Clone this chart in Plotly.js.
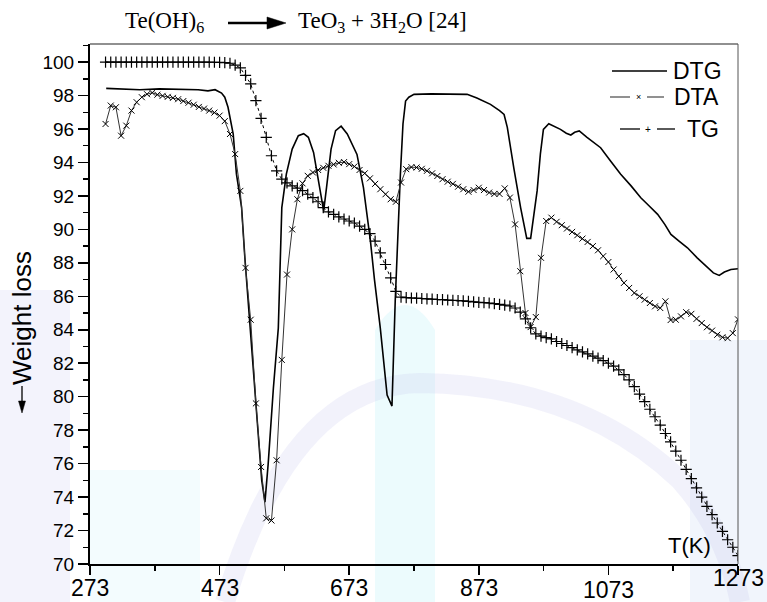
<!DOCTYPE html>
<html>
<head>
<meta charset="utf-8">
<script src="https://cdn.plot.ly/plotly-3.0.1.min.js"></script>
<style>html,body{margin:0;padding:0;background:#fff;}#chart{width:767px;height:602px;}</style>
</head>
<body>
<div id="chart"></div>
<script>
// Temperature grid (K) shared by TG and DTA
const T = [
297,305,313,321,329,337,345,353,361,369,
377,385,393,401,409,417,425,433,441,449,
457,465,473,481,489,497,505,513,521,529,
537,545,553,561,569,577,585,593,601,609,
617,625,633,641,649,657,665,673,681,689,
697,705,713,721,729,737,745,753,761,769,
777,785,793,801,809,817,825,833,841,849,
857,865,873,881,889,897,905,913,921,929,
937,945,953,961,969,977,985,993,1001,1009,
1017,1025,1033,1041,1049,1057,1065,1073,1081,1089,
1097,1105,1113,1121,1129,1137,1145,1153,1161,1169,
1177,1185,1193,1201,1209,1217,1225,1233,1241,1249,
1257,1265,1273];

const tgY = [
100,100,100,100,100,100,100,100,100,100,
100,100,100,100,100,100,100,100,100,100,
100,99.99,99.98,99.97,99.93,99.82,99.65,99.2,98.7,97.7,
96.64,95.5,94.4,93.5,93.0,92.78,92.6,92.47,92.32,92.1,
91.9,91.65,91.3,91.05,90.9,90.75,90.62,90.5,90.38,90.2,
90.0,89.75,89.3,88.6,87.9,87.1,86.3,85.95,85.92,85.9,
85.89,85.87,85.85,85.83,85.81,85.8,85.78,85.76,85.75,85.73,
85.7,85.67,85.64,85.62,85.6,85.56,85.52,85.47,85.42,85.3,
85.05,84.65,84.12,83.75,83.62,83.53,83.45,83.3,83.18,83.06,
82.93,82.8,82.68,82.56,82.43,82.3,82.15,82.0,81.83,81.6,
81.32,81.0,80.6,80.15,79.7,79.25,78.8,78.3,77.8,77.3,
76.75,76.2,75.65,75.1,74.55,74.0,73.45,72.95,72.45,71.95,
71.45,71.0,70.5];

const dtaY = [
96.3,97.4,97.3,95.6,96.2,97.1,97.6,97.9,98.08,98.17,
98.05,97.98,97.92,97.86,97.78,97.67,97.57,97.45,97.32,97.22,
97.1,96.98,96.8,96.47,95.7,94.5,92.3,87.7,84.6,79.6,
75.8,72.73,72.6,76.2,82.2,87.3,90.0,91.8,92.75,93.2,
93.4,93.55,93.68,93.8,93.88,93.98,94.02,93.9,93.76,93.55,
93.35,93.05,92.72,92.4,92.1,91.8,91.65,92.8,93.6,93.72,
93.7,93.62,93.5,93.35,93.19,93.0,92.85,92.72,92.55,92.4,
92.25,92.35,92.49,92.35,92.2,92.12,92.12,92.45,91.9,90.3,
87.5,85.0,84.16,84.76,88.3,90.5,90.7,90.45,90.25,90.05,
89.85,89.65,89.45,89.25,89.0,88.75,88.4,88.05,87.6,87.2,
86.8,86.5,86.2,86.0,85.8,85.6,85.4,85.3,85.7,84.58,
84.6,84.8,85.05,84.95,84.65,84.4,84.15,83.95,83.7,83.55,
83.5,83.8,84.62];

const dtgT = [298,320,350,380,410,440,455,466,476,481,486,490,494,499,507,512,520,531,538,543,
548,556,563.6,569,576,585,594.5,602.7,610,618,624,630,633.6,638,645,652,660.5,670,678,685,
695,705.8,712,721,731.5,739,744,748,752,756,760,765,773,800,840,855,870,891,905,912,
917,922,927,937.6,947,953,958,963,968,972.7,981,990,999,1008,1015,1021,1028,1040,1061,1076,
1092,1108,1123,1136,1149,1160,1169.5,1182,1195,1210,1226,1235,1244,1252,1262,1273];
const dtgY = [98.43,98.38,98.35,98.4,98.38,98.35,98.28,98.35,98.15,97.9,97.3,96.6,95.7,93.3,91.3,88.3,84.1,78.5,75.0,73.7,
76.0,80.5,84.1,91.3,93.3,94.8,95.6,95.72,95.5,94.6,93.3,91.8,91.1,92.5,94.8,95.9,96.17,95.7,95.1,94.48,
92.5,89.3,87.0,84.1,80.1,79.44,85.7,90.0,93.3,96.3,97.67,97.9,98.07,98.1,98.1,98.07,97.85,97.47,97.1,96.87,
96.1,95.0,93.68,91.29,89.46,89.46,90.9,92.3,94.5,95.98,96.31,96.15,95.98,95.75,95.64,95.8,95.88,95.5,94.88,94.1,
93.29,92.6,91.89,91.4,90.9,90.3,89.7,89.3,88.9,88.3,87.7,87.4,87.25,87.45,87.6,87.65];

const xTickVals = [273,473,673,873,1073,1273];
const xTickText = ['273','473','673','873','1073','1273'];
const yTickVals = [70,72,74,76,78,80,82,84,86,88,90,92,94,96,98,100];
const seriesNames = ['DTG','DTA','TG'];

// style / placement (pixel rows of the x tick labels)
const xLabelRow = [588,588,588,588,590,578];

const traces = [
  {x: dtgT, y: dtgY, mode: 'lines', name: seriesNames[0], line: {color: '#000', width: 1.6}, hoverinfo: 'skip'},
  {x: T, y: dtaY, mode: 'lines+markers', name: seriesNames[1], line: {color: '#333', width: 1},
   marker: {symbol: 'x-thin-open', size: 6, color: '#000', line: {width: 1, color: '#000'}}, hoverinfo: 'skip'},
  {x: T, y: tgY, mode: 'lines+markers', name: seriesNames[2], line: {color: '#000', width: 1, dash: 'dot'},
   marker: {symbol: 'cross-thin-open', size: 8, color: '#000', line: {width: 1.2, color: '#000'}}, hoverinfo: 'skip'}
];

// pixel helpers for layout positioning (plot area 90..738 x 44..564)
const L = 90, R = 29, TOP = 44, B = 38, W = 767 - L - R, H = 602 - TOP - B;
const px = p => (p - L) / W;
const py = p => (602 - B - p) / H;
const P = pts => pts.map((q, i) => (i === 0 ? 'M ' : 'L ') + px(q[0]) + ',' + py(q[1])).join(' ') + ' Z';
const pt = (x, y) => px(x) + ',' + py(y);

const sans = 'Liberation Sans, Arial, sans-serif';
const serif = 'Liberation Serif, Times New Roman, serif';

const pl = (x0, y0, x1, y1, color, width) => ({type: 'line', xref: 'paper', yref: 'paper', x0: px(x0), x1: px(x1), y0: py(y0), y1: py(y1), line: {color: color, width: width}});

const shapes = [
  // faint watermark tints in the background
  {type: 'rect', xref: 'paper', yref: 'paper', layer: 'below', x0: px(0), x1: px(70), y0: py(602), y1: py(290), fillcolor: 'rgba(200,200,240,0.22)', line: {width: 0}},
  {type: 'rect', xref: 'paper', yref: 'paper', layer: 'below', x0: px(690), x1: px(767), y0: py(602), y1: py(340), fillcolor: 'rgba(175,200,240,0.18)', line: {width: 0}},
  {type: 'path', xref: 'paper', yref: 'paper', layer: 'below', path: 'M ' + pt(375, 602) + ' L ' + pt(375, 330) + ' Q ' + pt(405, 280) + ' ' + pt(435, 330) + ' L ' + pt(435, 602) + ' Z', fillcolor: 'rgba(170,235,245,0.22)', line: {width: 0}},
  {type: 'path', xref: 'paper', yref: 'paper', layer: 'below', path: 'M ' + pt(225, 602) + ' Q ' + pt(290, 385) + ' ' + pt(420, 383) + ' Q ' + pt(580, 385) + ' ' + pt(680, 480) + ' Q ' + pt(725, 530) + ' ' + pt(740, 602), line: {color: 'rgba(195,195,235,0.22)', width: 20}},
  {type: 'rect', xref: 'paper', yref: 'paper', layer: 'below', x0: px(90), x1: px(200), y0: py(602), y1: py(470), fillcolor: 'rgba(190,240,250,0.18)', line: {width: 0}},
  // top and right frame
  {type: 'line', xref: 'paper', yref: 'paper', x0: 0, x1: 1, y0: 1, y1: 1, line: {color: '#222', width: 1.2}},
  {type: 'line', xref: 'paper', yref: 'paper', x0: 1, x1: 1, y0: 0, y1: 1, line: {color: '#555', width: 1}},
  // legend lines
  pl(612, 71, 667, 71, '#000', 1.5),
  pl(610, 97, 630, 97, '#555', 1.3),
  pl(647, 97, 664, 97, '#555', 1.3),
  pl(620, 129, 640, 129, '#000', 1.3),
  pl(657, 129, 675, 129, '#000', 1.3),
  // reaction arrow
  pl(228, 23, 269, 23, '#000', 2.5),
  {type: 'path', xref: 'paper', yref: 'paper', path: P([[267, 17], [286, 23], [267, 29]]), fillcolor: '#000', line: {color: '#000', width: 0.5}},
  // y title arrow
  pl(22, 386, 22, 404, '#000', 1.3),
  {type: 'path', xref: 'paper', yref: 'paper', path: P([[18.5, 401], [25.5, 401], [22, 413]]), fillcolor: '#000', line: {color: '#000', width: 0.5}}
];

const ann = (x, y, text, size, extra) => Object.assign({xref: 'paper', yref: 'paper', x: px(x), y: py(y), xanchor: 'center', yanchor: 'middle', text: text, showarrow: false, font: {family: sans, size: size, color: '#000'}}, extra || {});

const annotations = [
  // legend labels
  ann(724, 71, seriesNames[0], 23, {xanchor: 'right'}),
  ann(721, 97, seriesNames[1], 23, {xanchor: 'right'}),
  ann(721, 129, seriesNames[2], 23, {xanchor: 'right'}),
  ann(638.5, 97, '×', 9),
  ann(648, 129, '+', 10),
  // reaction title
  ann(123, 22, 'Te(OH)<sub>6</sub>', 23, {xanchor: 'left', font: {family: serif, size: 23, color: '#000'}}),
  ann(296, 22, 'TeO<sub>3</sub> + 3H<sub>2</sub>O [24]', 23, {xanchor: 'left', font: {family: serif, size: 23, color: '#000'}}),
  // y axis title
  ann(22, 318, 'Weight loss', 26, {textangle: -90}),
  // x axis title
  ann(689, 545, 'T(K)', 22)
];
// x tick labels
xTickVals.forEach((v, i) => {
  annotations.push({xref: 'x', yref: 'paper', x: v, y: py(xLabelRow[i]), xanchor: 'center', yanchor: 'middle',
    text: xTickText[i], showarrow: false, font: {family: sans, size: 23, color: '#000'}});
});

const layout = {
  width: 767, height: 602,
  margin: {l: L, r: R, t: TOP, b: B},
  paper_bgcolor: '#fff', plot_bgcolor: 'rgba(0,0,0,0)',
  showlegend: false,
  xaxis: {
    range: [273, 1273], showgrid: false, zeroline: false,
    showline: true, linecolor: '#000', linewidth: 2,
    ticks: 'outside', ticklen: 9, tickwidth: 1.5, tickcolor: '#000',
    tickvals: xTickVals, showticklabels: false,
    minor: {tick0: 273, dtick: 100, ticks: 'outside', ticklen: 5, tickwidth: 1.5, tickcolor: '#000', showgrid: false}
  },
  yaxis: {
    range: [70, 101.08], showgrid: false, zeroline: false,
    showline: true, linecolor: '#000', linewidth: 2,
    ticks: 'outside', ticklen: 10, tickwidth: 1.5, tickcolor: '#000',
    tickvals: yTickVals,
    tickfont: {family: sans, size: 19, color: '#000'},
    minor: {tick0: 70, dtick: 1, ticks: 'outside', ticklen: 5, tickwidth: 1.5, tickcolor: '#000', showgrid: false}
  },
  shapes: shapes,
  annotations: annotations
};

Plotly.newPlot('chart', traces, layout, {displayModeBar: false, staticPlot: true});
</script>
</body>
</html>
